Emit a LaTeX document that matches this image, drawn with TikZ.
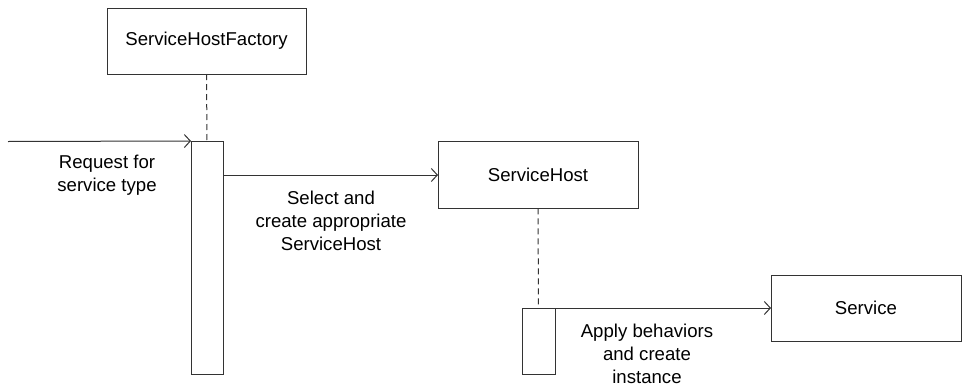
\documentclass[tikz,border=0pt]{standalone}
\usepackage{fontspec}
\setmainfont{Liberation Sans}
\usetikzlibrary{arrows.meta}
\begin{document}
\begin{tikzpicture}[x=1pt,y=-1pt,
  line width=1pt,
  box/.style={draw=black!80, fill=white, inner sep=0pt, outer sep=0pt, font=\fontsize{18.6}{23}\selectfont},
  bar/.style={draw=black!80, fill=white, inner sep=0pt, outer sep=0pt},
  lbl/.style={align=center, inner sep=0pt, font=\fontsize{18.6}{23}\selectfont},
  arr/.style={draw=black!80, -{Straight Barb[length=6pt,width=13pt,line width=1pt]}},
  life/.style={draw=black!80, dash pattern=on 6pt off 4pt}]
\useasboundingbox (0,0) rectangle (962,386);
\node[box, minimum width=199pt, minimum height=66pt] (shf) at (206.5,41) {ServiceHostFactory};
\node[bar, minimum width=32pt, minimum height=233pt] (bar1) at (207,257.5) {};
\node[box, minimum width=200pt, minimum height=66.5pt] (sh) at (538,175) {ServiceHost};
\node[bar, minimum width=33pt, minimum height=66pt] (bar2) at (538.5,341) {};
\node[box, minimum width=190pt, minimum height=66pt] (svc) at (866,308) {Service};
\coordinate (start) at (8,141.5);
\draw[life] (shf.south) -- (bar1.north);
\draw[life] (sh.south) -- (bar2.north);
\draw[arr] (start) -- (bar1.north west);
\draw[arr] (bar1.east |- sh.west) -- (sh.west);
\draw[arr] (bar2.north east) -- (svc.west);
\node[lbl] (req) at (107,175) {Request for\\service type};
\node[lbl] (sel) at (331,221) {Select and\\create appropriate\\ServiceHost};
\node[lbl] (app) at (647,354) {Apply behaviors\\and create\\instance};
\end{tikzpicture}
\end{document}
